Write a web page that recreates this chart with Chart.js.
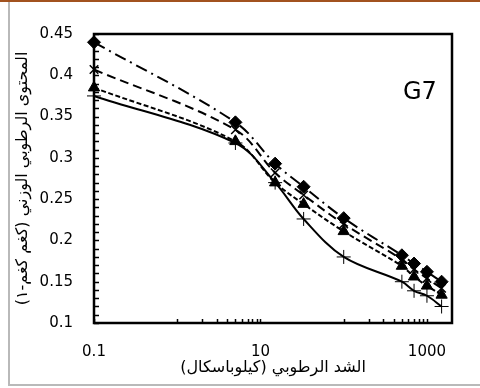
<!DOCTYPE html>
<html>
<head>
<meta charset="utf-8">
<script src="https://cdn.jsdelivr.net/npm/chart.js@4/dist/chart.umd.min.js"></script>
<style>
  body { margin: 0; background: #fff; }
  #wrap { position: relative; width: 480px; height: 388px; background: #fff; }
  #topline { position: absolute; left: 0; top: 0; width: 480px; height: 2px; background: #a2521f; }
  #frame { position: absolute; left: 8px; top: 2px; width: 474px; height: 382px;
           border-left: 2px solid #b9b9b9; border-bottom: 2px solid #b9b9b9; }
  canvas { position: absolute; left: 0; top: 0; }
</style>
</head>
<body>
<div id="wrap">
  <div id="topline"></div>
  <div id="frame"></div>
  <canvas id="g7" width="480" height="388"></canvas>
</div>
<script>
// suction values in kPa
const suction = [0.1, 5, 15, 33, 100, 500, 700, 1000, 1500];

const seriesDiamond = [0.440, 0.343, 0.293, 0.265, 0.227, 0.182, 0.172, 0.162, 0.150];
const seriesCross   = [0.407, 0.334, 0.282, 0.255, 0.220, 0.177, 0.165, 0.154, 0.142];
const seriesTri     = [0.385, 0.320, 0.270, 0.244, 0.211, 0.169, 0.156, 0.145, 0.134];
const seriesPlus    = [0.375, 0.318, 0.270, 0.226, 0.180, 0.150, 0.139, 0.133, 0.120];

const xTickValues = [0.1, 1, 2, 3, 4, 5, 6, 7, 8, 9, 10, 100, 200, 300, 400, 500, 600, 700, 800, 900, 1000];
const xTickLabels = [0.1, 10, 1000];

const numFont = { family: "'DejaVu Sans'", size: 15 };
const arFont = { family: "'DejaVu Sans'", size: 16 };

function pts(ys) {
  return suction.map((x, i) => ({ x: x, y: ys[i] }));
}

function line(label, ys, style, radius, dash, ptWidth) {
  return {
    label: label,
    data: pts(ys),
    borderColor: '#000',
    backgroundColor: '#000',
    borderWidth: 2,
    borderDash: dash,
    pointStyle: style,
    pointRadius: radius,
    pointBorderWidth: ptWidth,
    pointBackgroundColor: '#000',
    pointBorderColor: '#000',
    tension: 0.35,
    clip: false
  };
}

// box round the plot, inward tick marks and the sample label
const decor = {
  id: 'decor',
  afterDraw(chart) {
    const ctx = chart.ctx;
    const a = chart.chartArea;
    const xs = chart.scales.x, ys = chart.scales.y;
    ctx.save();
    ctx.strokeStyle = '#000';
    ctx.lineWidth = 1.5;
    ctx.beginPath();
    for (const t of ys.ticks) {
      const py = Math.round(ys.getPixelForValue(t.value)) + 0.5;
      ctx.moveTo(a.left, py);
      ctx.lineTo(a.left + 5, py);
    }
    for (const t of xs.ticks) {
      const px = Math.round(xs.getPixelForValue(t.value)) + 0.5;
      ctx.moveTo(px, a.bottom);
      ctx.lineTo(px, a.bottom - 4);
    }
    ctx.stroke();
    ctx.lineWidth = 2.5;
    ctx.strokeRect(a.left, a.top, a.right - a.left, a.bottom - a.top);
    ctx.fillStyle = '#000';
    ctx.font = "24px 'DejaVu Sans'";
    ctx.textBaseline = 'alphabetic';
    ctx.fillText('G7', 403, 99);
    ctx.restore();
  }
};

new Chart(document.getElementById('g7'), {
  type: 'line',
  data: {
    datasets: [
      line('d', seriesDiamond, 'rectRot', 6.5, [12, 5, 2, 5], 1),
      line('x', seriesCross, 'crossRot', 6, [9, 5], 1.5),
      line('t', seriesTri, 'triangle', 6.5, [5, 2.5], 1),
      line('p', seriesPlus, 'cross', 7, [], 1)
    ]
  },
  options: {
    responsive: false,
    animation: false,
    layout: { padding: { left: 10, right: 28, top: 34, bottom: 4 } },
    plugins: { legend: { display: false }, tooltip: { enabled: false } },
    scales: {
      x: {
        type: 'logarithmic',
        min: 0.1,
        max: 2000,
        afterBuildTicks: s => { s.ticks = xTickValues.map(v => ({ value: v })); },
        afterFit: s => { s.height = 61; },
        grid: { display: false, drawTicks: false },
        border: { display: false },
        ticks: {
          autoSkip: false,
          maxRotation: 0,
          padding: 20,
          color: '#000',
          font: numFont,
          callback: v => xTickLabels.includes(v) ? String(v) : ''
        },
        title: {
          display: true,
          text: 'الشد الرطوبي (كيلوباسكال)',
          color: '#000',
          font: arFont,
          padding: { top: 0, bottom: 7 }
        }
      },
      y: {
        min: 0.1,
        max: 0.45,
        afterFit: s => { s.width = 84; },
        grid: { display: false, drawTicks: false },
        border: { display: false },
        ticks: {
          stepSize: 0.01,
          autoSkip: false,
          padding: 21,
          color: '#000',
          font: numFont,
          callback: v => Math.round(v * 100) % 5 === 0 ? String(Math.round(v * 100) / 100) : ''
        },
        title: {
          display: true,
          text: 'المحتوى الرطوبي الوزني (كغم كغم-١)',
          color: '#000',
          font: arFont,
          padding: { top: 3, bottom: 0 }
        }
      }
    }
  },
  plugins: [decor]
});
</script>
</body>
</html>
